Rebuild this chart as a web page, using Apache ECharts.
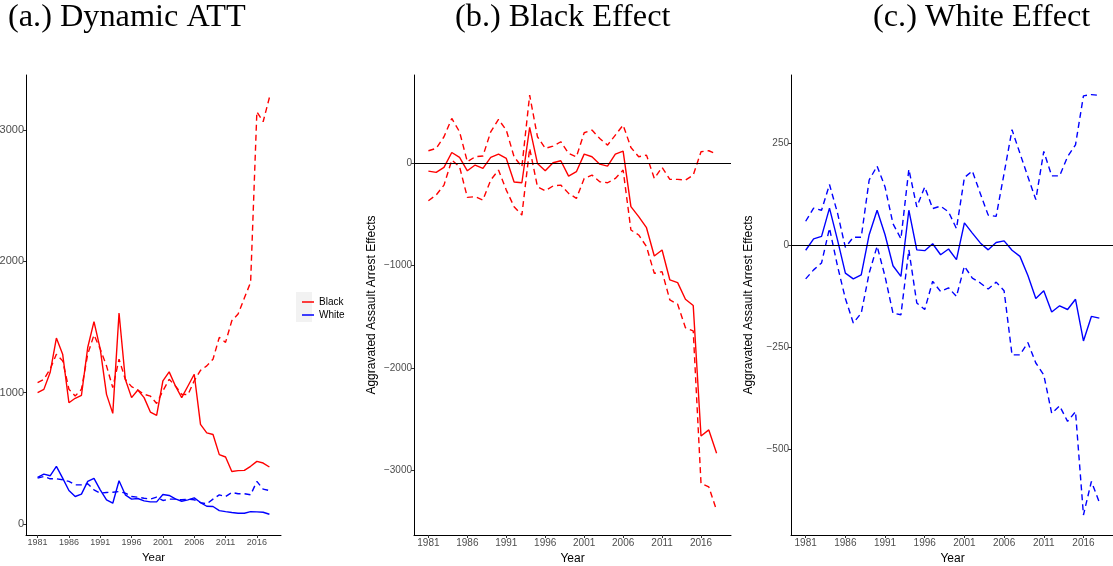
<!DOCTYPE html>
<html>
<head>
<meta charset="utf-8">
<script src="https://cdn.jsdelivr.net/npm/echarts@6/dist/echarts.min.js"></script>
<style>
  html,body{margin:0;padding:0;background:#fff;}
  #main{width:1113px;height:566px;}
</style>
</head>
<body>
<div id="main"></div>
<script>
  // years 1981-2018
  var years = [1981,1982,1983,1984,1985,1986,1987,1988,1989,1990,1991,1992,1993,1994,1995,1996,1997,1998,1999,
    2000,2001,2002,2003,2004,2005,2006,2007,2008,2009,2010,2011,2012,2013,2014,2015,2016,2017,2018];
  var xTicks = [1981,1986,1991,1996,2001,2006,2011,2016];
  var aTicks = [0,1000,2000,3000];
  var bTicks = [-3000,-2000,-1000,0];
  var cTicks = [-500,-250,0,250];

  // (a.) dynamic ATT
  var blackAtt = [1000,1025,1153,1416,1293,923,957,980,1344,1541,1332,987,842,1607,1102,962,1020,962,852,827,
    1089,1158,1051,962,1051,1140,758,694,681,528,510,400,406,408,439,477,464,434];
  var blackCf = [1077,1102,1179,1293,1242,1026,974,1026,1293,1439,1332,1204,1038,1255,1102,1046,1020,987,974,918,
    1013,1102,1051,987,985,1090,1170,1204,1255,1421,1383,1548,1599,1720,1840,3139,3063,3248];
  var whiteAtt = [355,380,367,439,349,255,209,227,324,347,260,184,158,329,222,189,194,176,168,168,
    224,217,191,173,184,199,163,135,133,102,94,87,82,82,94,92,89,74];
  var whiteCf = [349,362,344,344,337,324,298,298,306,260,235,240,242,247,235,209,204,196,189,204,
    179,189,189,184,189,184,163,153,189,222,209,240,230,230,222,324,265,255];

  // (b.) black effect
  var blackEst = [-75,-88,-39,107,59,-72,-16,-49,59,91,49,-182,-189,352,0,-72,7,26,-124,-81,
    91,65,-7,-26,91,121,-423,-521,-629,-906,-847,-1140,-1166,-1329,-1390,-2666,-2607,-2836];
  var blackHi = [124,147,261,440,309,16,65,72,309,430,326,65,-33,668,261,147,169,212,98,65,
    300,326,244,179,277,375,156,65,81,-147,-39,-156,-156,-163,-114,114,124,91];
  var blackLo = [-365,-309,-212,33,-33,-332,-326,-358,-163,-65,-261,-423,-505,147,-228,-267,-221,-212,-293,-342,
    -147,-114,-179,-189,-147,-65,-651,-700,-814,-1075,-1059,-1336,-1377,-1607,-1639,-3131,-3164,-3393];

  // (c.) white effect
  var whiteEst = [-12,16,22,91,14,-68,-82,-72,26,86,26,-50,-76,86,-11,-13,4,-23,-9,-35,
    55,30,6,-11,7,11,-12,-27,-74,-130,-111,-163,-148,-157,-132,-234,-174,-178];
  var whiteHi = [59,91,86,149,80,-5,20,20,160,194,143,53,16,186,94,143,90,96,82,41,
    166,182,127,74,71,176,283,225,168,112,230,170,170,217,246,366,369,367];
  var whiteLo = [-82,-60,-43,42,-50,-130,-190,-166,-68,-2,-76,-166,-170,-11,-141,-157,-88,-113,-104,-125,
    -51,-80,-92,-107,-90,-111,-268,-268,-238,-288,-317,-411,-393,-431,-407,-660,-578,-629];

  var RED = '#ff0000', BLUE = '#0000ff';
  var sans = 'Liberation Sans';
  var serif = 'Liberation Serif';

  function pairs(vals){
    return years.map(function(y,i){ return [y, vals[i]]; });
  }
  function minus(v){
    return v < 0 ? '\u2212' + Math.abs(v) : String(v);
  }

  function xAx(i, fs, nfs){
    return {
      gridIndex:i, type:'value', min:1979.15, max:2019.85,
      name:'Year', nameLocation:'middle', nameGap:14,
      nameTextStyle:{color:'#000', fontSize:nfs, fontFamily:sans},
      axisLine:{show:true, onZero:false, lineStyle:{color:'#000', width:1}},
      axisTick:{show:true, length:3, customValues:xTicks, lineStyle:{color:'#333'}},
      axisLabel:{customValues:xTicks, color:'#4d4d4d', fontSize:fs, margin:3, fontFamily:sans,
        formatter:function(v){ return String(v); }},
      splitLine:{show:false}
    };
  }
  function yAx(i, min, max, ticks, fs, withName){
    var ax = {
      gridIndex:i, type:'value', min:min, max:max,
      axisLine:{show:true, onZero:false, lineStyle:{color:'#000', width:1}},
      axisTick:{show:true, length:3, customValues:ticks, lineStyle:{color:'#333'}},
      axisLabel:{customValues:ticks, color:'#4d4d4d', fontSize:fs, margin:2, fontFamily:sans, formatter:minus},
      splitLine:{show:false}
    };
    if(withName){
      ax.name = 'Aggravated Assault Arrest Effects';
      ax.nameLocation = 'middle';
      ax.nameGap = 36;
      ax.nameTextStyle = {color:'#000', fontSize:12, fontFamily:sans};
    }
    return ax;
  }
  function line(name, vals, color, dashed, gi, zero){
    var s = {
      name:name, type:'line', xAxisIndex:gi, yAxisIndex:gi,
      data:pairs(vals), symbol:'none', color:color,
      lineStyle:{color:color, width:1.4, type: dashed ? [6,4] : 'solid'}
    };
    if(zero){
      s.markLine = {
        silent:true, symbol:'none', label:{show:false},
        lineStyle:{color:'#000', type:'solid', width:1},
        data:[{yAxis:0}]
      };
    }
    return s;
  }

  var titleStyle = {fontFamily:serif, fontSize:32.3, fontWeight:'normal', color:'#000'};
  var chart = echarts.init(document.getElementById('main'));
  var option = {
    animation:false,
    backgroundColor:'#fff',
    title:[
      {text:'(a.) Dynamic ATT', left:8, top:2, padding:0, textStyle:titleStyle},
      {text:'(b.) Black Effect', left:455, top:2, padding:0, textStyle:titleStyle},
      {text:'(c.) White Effect', left:873, top:2, padding:0, textStyle:titleStyle}
    ],
    graphic:[
      {type:'rect', left:296, top:292, shape:{width:16, height:30}, style:{fill:'#f2f2f2'}, z:0}
    ],
    legend:{
      data:['Black','White'], orient:'vertical', left:297, top:292,
      icon:'rect', itemWidth:12, itemHeight:1.5, itemGap:3,
      textStyle:{fontSize:10, color:'#000', fontFamily:sans}
    },
    grid:[
      {left:26, top:75, width:255, height:460, outerBoundsMode:'none'},
      {left:414, top:75, width:317, height:460, outerBoundsMode:'none'},
      {left:791, top:75, width:323, height:460, outerBoundsMode:'none'}
    ],
    xAxis:[ xAx(0, 9, 11.5), xAx(1, 10, 12), xAx(2, 10, 12) ],
    yAxis:[
      yAx(0, -84, 3419, aTicks, 11, false),
      yAx(1, -3635, 865, bTicks, 10, true),
      yAx(2, -709, 417, cTicks, 10, true)
    ],
    series:[
      line('Black', blackAtt, RED, false, 0),
      line('Black counterfactual', blackCf, RED, true, 0),
      line('White', whiteAtt, BLUE, false, 0),
      line('White counterfactual', whiteCf, BLUE, true, 0),
      line('Black estimate', blackEst, RED, false, 1, true),
      line('Black upper', blackHi, RED, true, 1),
      line('Black lower', blackLo, RED, true, 1),
      line('White estimate', whiteEst, BLUE, false, 2, true),
      line('White upper', whiteHi, BLUE, true, 2),
      line('White lower', whiteLo, BLUE, true, 2)
    ]
  };
  chart.setOption(option);
</script>
</body>
</html>
